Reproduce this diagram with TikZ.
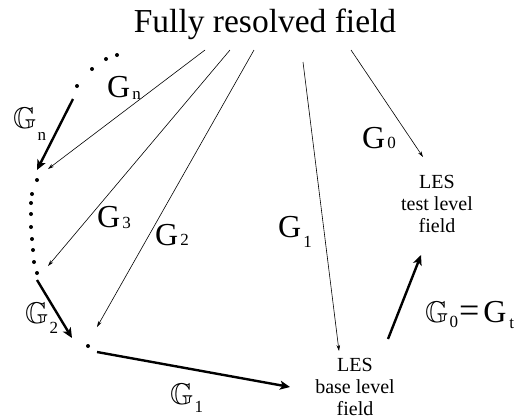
\documentclass[tikz,border=0pt]{standalone}
\usepackage{amssymb}
\usepackage{fontspec}
\setmainfont{Liberation Serif}
\usetikzlibrary{arrows.meta}
\newcommand\subsz{\fontsize{17}{17}\selectfont}
\newcommand\rG[2]{G\kern2pt\raisebox{#2}{\subsz #1}}
\newcommand\bG[2]{$\mathbb{G}$\kern1pt\raisebox{#2}{\subsz #1}}
\begin{document}
\begin{tikzpicture}[x=1pt,y=-1pt,
  thin arrow/.style={line width=0.6pt,-{Stealth[length=6pt,width=3.6pt]}},
  thick arrow/.style={line width=2.4pt,-{Stealth[length=10pt,width=9pt,inset=2.5pt]}},
  dot/.style={circle,fill,inner sep=0pt,minimum size=4pt},
  lab/.style={anchor=base west,inner sep=0pt,font=\fontsize{32}{32}\selectfont},
  blab/.style={anchor=base west,inner sep=0pt,font=\fontsize{30}{30}\selectfont},
  les/.style={anchor=north,inner sep=0pt,align=center,font=\fontsize{20}{22}\selectfont}]
\useasboundingbox (0,0) rectangle (514,418);
% title
\node[anchor=base,inner sep=0pt,font=\fontsize{33.5}{34}\selectfont] (title) at (265,32) {Fully resolved field};
% LES nodes
\node[les] (test) at (437,174.7) {LES\\test level\\field};
\node[les] (base) at (355,357.7) {LES\\base level\\field};
% dots
\foreach \i/\p in {1/{(117,55)},2/{(106,59)},3/{(92,69)},4/{(77,86)},
  5/{(37,180)},6/{(32,194)},7/{(31,203)},8/{(31,214)},9/{(31,227)},
  10/{(32,239)},11/{(33,250)},12/{(34,262)},13/{(37,273)},14/{(88,346)}}
  \node[dot] (d\i) at \p {};
% thin arrow coordinates
\coordinate (sn) at (205,50); \coordinate (en) at (48,169);
\coordinate (s3) at (230,50); \coordinate (e3) at (48,266);
\coordinate (s2) at (254,50); \coordinate (e2) at (97,327);
\coordinate (s1) at (303,62); \coordinate (e1) at (339,351);
\coordinate (s0) at (351,50); \coordinate (e0) at (423,157);
\draw[thin arrow] (sn) -- (en);
\draw[thin arrow] (s3) -- (e3);
\draw[thin arrow] (s2) -- (e2);
\draw[thin arrow] (s1) -- (e1);
\draw[thin arrow] (s0) -- (e0);
% thick arrows
\coordinate (tna) at (73,99);  \coordinate (tnb) at (37,170);
\coordinate (t2a) at (37,280); \coordinate (t2b) at (72,338);
\coordinate (t1a) at (97,352); \coordinate (t1b) at (290,387);
\coordinate (t0a) at (388,339); \coordinate (t0b) at (421,255);
\draw[thick arrow] (tna) -- (tnb);
\draw[thick arrow] (t2a) -- (t2b);
\draw[thick arrow] (t1a) -- (t1b);
\draw[thick arrow] (t0a) -- (t0b);
% labels
\node[lab] (lGn) at (107,97) {\rG{n}{-2pt}};
\node[lab] (lG3) at (97,227) {\rG{3}{-1pt}};
\node[lab] (lG2) at (155,245) {\rG{2}{0pt}};
\node[lab] (lG1) at (278,237) {\rG{1}{-10pt}};
\node[lab] (lG0) at (362,148) {\rG{0}{0pt}};
\node[blab] (bGn) at (13,128) {\bG{n}{-12pt}};
\node[blab] (bG2) at (25,323) {\bG{2}{-10pt}};
\node[blab] (bG1) at (170,404) {\bG{1}{-8pt}};
\node[blab] (bG0) at (425,322) {\bG{0}{-5pt}\kern1pt{\fontsize{36}{36}\selectfont=}\kern4pt{\fontsize{32}{32}\selectfont G}\kern3pt\raisebox{-6pt}{\subsz t}};
\end{tikzpicture}
\end{document}
